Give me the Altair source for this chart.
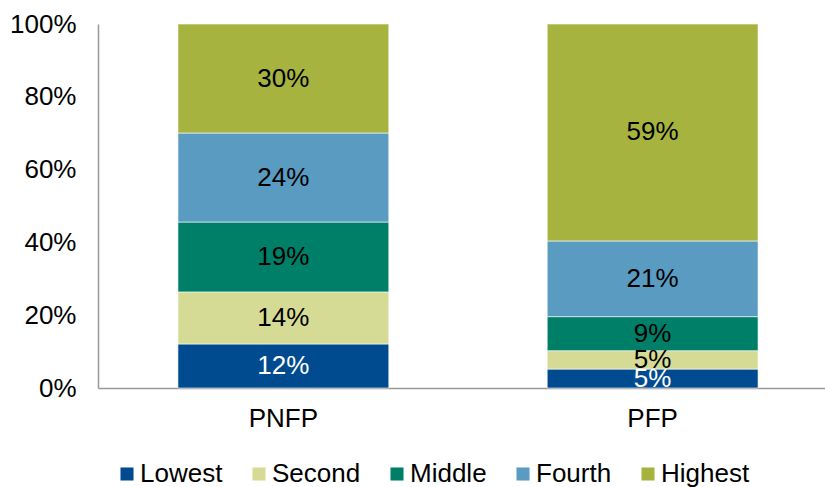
import altair as alt
import pandas as pd

groups = ["PNFP", "PFP"]
quintiles = ["Lowest", "Second", "Middle", "Fourth", "Highest"]
pnfp_values = [12.1, 14.3, 19.2, 24.45, 29.95]
pfp_values = [5.2, 5.05, 9.35, 20.8, 59.6]
pnfp_labels = ["12%", "14%", "19%", "24%", "30%"]
pfp_labels = ["5%", "5%", "9%", "21%", "59%"]
colors = ["#004B8F", "#D5DB94", "#007F68", "#5A9BC2", "#A6B43F"]
label_colors = ["white", "black", "black", "black", "black"]

FS = 26
FONT = "Liberation Sans"

rows = []
for g, vals, labs in [("PNFP", pnfp_values, pnfp_labels), ("PFP", pfp_values, pfp_labels)]:
    for i, (q, v, l) in enumerate(zip(quintiles, vals, labs)):
        rows.append({"group": g, "quintile": q, "order": i, "value": v,
                     "label": l, "lcolor": label_colors[i]})
df = pd.DataFrame(rows)

xscale = alt.Scale(domain=groups, range=[0, 740], paddingInner=0.429, paddingOuter=0.2165)

base = alt.Chart(df).transform_stack(
    stack="value", groupby=["group"], as_=["y0", "y1"], offset="normalize",
    sort=[alt.SortField("order", order="ascending")]
).transform_calculate(mid="(datum.y0 + datum.y1) / 2")

bars = base.mark_bar(stroke="white", strokeWidth=0.6).encode(
    x=alt.X("group:N", scale=xscale, sort=groups, title=None,
            axis=alt.Axis(labelAngle=0, labelFontSize=FS, labelFont=FONT,
                          labelColor="black", ticks=False, labelPadding=17,
                          domainColor="#999999", domainWidth=1.5)),
    y=alt.Y("y0:Q", scale=alt.Scale(domain=[0, 1], nice=False), title=None,
            axis=alt.Axis(format=".0%", values=[0, 0.2, 0.4, 0.6, 0.8, 1.0],
                          labelFontSize=FS, labelFont=FONT, labelColor="black",
                          ticks=False, grid=False, labelPadding=22,
                          domainColor="#999999", domainWidth=1.5)),
    y2="y1:Q",
    color=alt.Color("quintile:N", scale=alt.Scale(domain=quintiles, range=colors),
                    title=None,
                    legend=alt.Legend(orient="none", legendX=16, legendY=437,
                                      direction="horizontal", symbolType="square",
                                      symbolSize=170, symbolStrokeWidth=0,
                                      labelFontSize=FS, labelFont=FONT,
                                      labelColor="black", columnPadding=23,
                                      labelOffset=0)),
    order=alt.Order("order:Q"),
)

texts = base.mark_text(fontSize=FS, font=FONT, baseline="middle").encode(
    x=alt.X("group:N", scale=xscale, sort=groups),
    y=alt.Y("mid:Q", scale=alt.Scale(domain=[0, 1], nice=False)),
    text="label:N",
    color=alt.Color("lcolor:N", scale=None, legend=None),
)

chart = alt.layer(bars, texts).resolve_scale(color="independent").properties(
    width=727, height=364,
    autosize=alt.AutoSizeParams(type="none"),
    padding={"left": 98, "top": 24, "right": 0, "bottom": 99},
).configure_view(stroke=None)

chart.save("out.html", embed_options={"renderer": "svg", "actions": False})
